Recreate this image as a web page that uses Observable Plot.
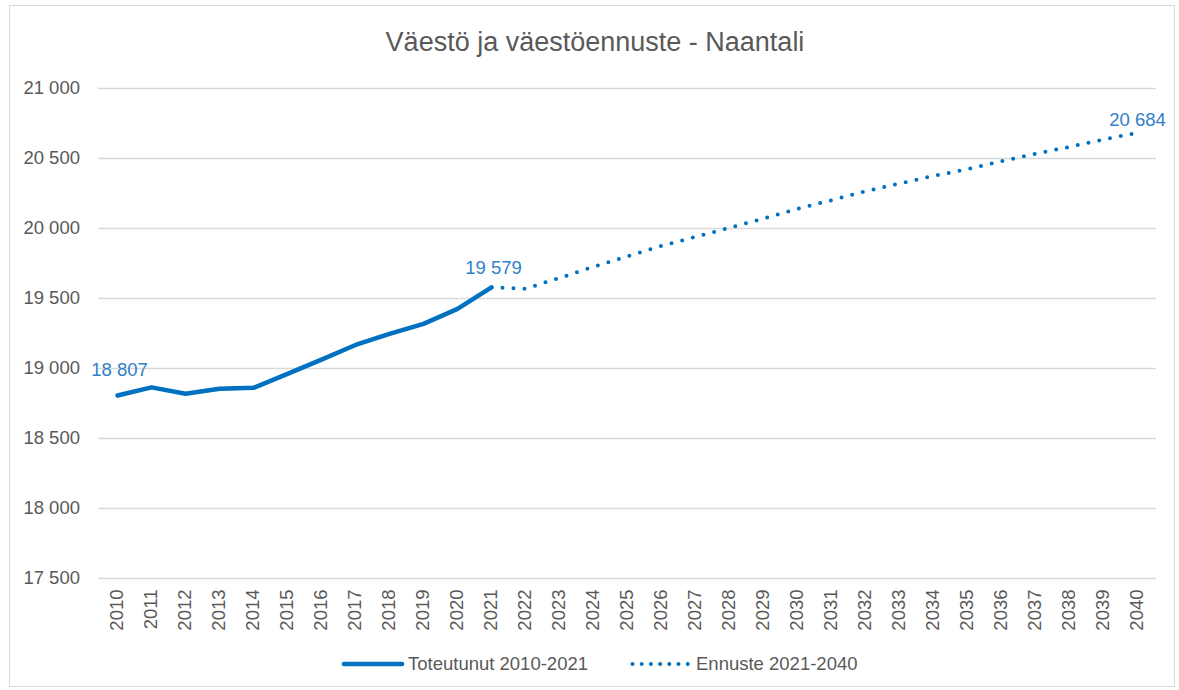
<!DOCTYPE html>
<html>
<head>
<meta charset="utf-8">
<script src="https://cdn.jsdelivr.net/npm/d3@7"></script>
<script src="https://cdn.jsdelivr.net/npm/@observablehq/plot@0.6"></script>
<style>
  body { margin: 0; background: #fff; }
  #wrap { position: relative; width: 1179px; height: 690px; overflow: hidden; font-family: "Liberation Sans", Arial, sans-serif; }
  #frame { position: absolute; left: 9px; top: 5px; width: 1166px; height: 682px; border: 1px solid #d9d9d9; box-sizing: border-box; }
  #title { position: absolute; left: 0; top: 29px; width: 1190px; text-align: center; font-size: 27px; line-height: 27px; color: #595959; }
  #chart { position: absolute; left: 0; top: 0; }
  .leg { position: absolute; top: 655px; font-size: 18.5px; line-height: 18.5px; color: #595959; white-space: nowrap; }
  .sw { position: absolute; top: 656px; }
</style>
</head>
<body>
<div id="wrap">
  <div id="frame"></div>
  <div id="chart"></div>
  <div id="title">Väestö ja väestöennuste - Naantali</div>
  <svg class="sw" style="left:341px" width="64" height="16"><line x1="3" y1="8" x2="61" y2="8" stroke="#0070c0" stroke-width="4.5" stroke-linecap="round"/></svg>
  <div class="leg" style="left:408px">Toteutunut 2010-2021</div>
  <svg class="sw" style="left:630px" width="62" height="16"><line x1="2.5" y1="8" x2="58" y2="8" stroke="#0070c0" stroke-width="4" stroke-linecap="round" stroke-dasharray="0 9.2"/></svg>
  <div class="leg" style="left:696px">Ennuste 2021-2040</div>
</div>
<script>
// Data
const actualYears = [2010, 2011, 2012, 2013, 2014, 2015, 2016, 2017, 2018, 2019, 2020, 2021];
const actualValues = [18807, 18865, 18820, 18855, 18862, 18962, 19063, 19168, 19247, 19319, 19426, 19579];
const forecastYears = [2021, 2022, 2023, 2024, 2025, 2026, 2027, 2028, 2029, 2030, 2031, 2032, 2033, 2034, 2035, 2036, 2037, 2038, 2039, 2040];
const forecastValues = [19579, 19570, 19647, 19726, 19802, 19876, 19940, 20005, 20071, 20141, 20202, 20265, 20321, 20376, 20423, 20481, 20533, 20583, 20636, 20684];
const xTicks = [2010, 2011, 2012, 2013, 2014, 2015, 2016, 2017, 2018, 2019, 2020, 2021, 2022, 2023, 2024, 2025, 2026, 2027, 2028, 2029, 2030, 2031, 2032, 2033, 2034, 2035, 2036, 2037, 2038, 2039, 2040];
const yTicks = [17500, 18000, 18500, 19000, 19500, 20000, 20500, 21000];
const labelYears = [2010, 2021, 2040];
const labelValues = [18807, 19579, 20684];

const actual = actualYears.map((y, i) => ({year: y, value: actualValues[i]}));
const forecast = forecastYears.map((y, i) => ({year: y, value: forecastValues[i]}));
const labels = labelYears.map((y, i) => ({year: y, value: labelValues[i]}));
const fmt = v => d3.format(",")(v).replace(",", " ");

const blue = "#0070c0";
const labelBlue = "#2f80c8";

const chart = Plot.plot({
  width: 1179,
  height: 690,
  marginTop: 88,
  marginBottom: 112,
  marginLeft: 98,
  marginRight: 23,
  style: {fontFamily: "'Liberation Sans', Arial, sans-serif", fontSize: "18.5px", color: "#595959", background: "transparent", overflow: "visible"},
  x: {type: "point", domain: xTicks, padding: 0.5},
  y: {domain: [17500, 21000]},
  marks: [
    Plot.ruleY(yTicks, {stroke: "#d9d9d9", strokeWidth: 1.4}),
    Plot.axisY({ticks: yTicks, tickSize: 0, tickPadding: 18.5, tickFormat: fmt, label: null}),
    Plot.axisX({ticks: xTicks, tickSize: 0, tickPadding: 11, tickRotate: -90, tickFormat: d => String(d), label: null}),
    Plot.line(forecast, {x: "year", y: "value", stroke: blue, strokeWidth: 4, strokeLinecap: "round", strokeDasharray: "0 11"}),
    Plot.line(actual, {x: "year", y: "value", stroke: blue, strokeWidth: 4.5, strokeLinecap: "round", strokeLinejoin: "round"}),
    Plot.text(labels.filter(d => d.year === 2010), {x: "year", y: "value", text: d => fmt(d.value), fill: labelBlue, dy: -25, dx: 2}),
    Plot.text(labels.filter(d => d.year === 2021), {x: "year", y: "value", text: d => fmt(d.value), fill: labelBlue, dy: -19, dx: 2}),
    Plot.text(labels.filter(d => d.year === 2040), {x: "year", y: "value", text: d => fmt(d.value), fill: labelBlue, dy: -13})
  ]
});
document.getElementById("chart").appendChild(chart);
</script>
</body>
</html>
